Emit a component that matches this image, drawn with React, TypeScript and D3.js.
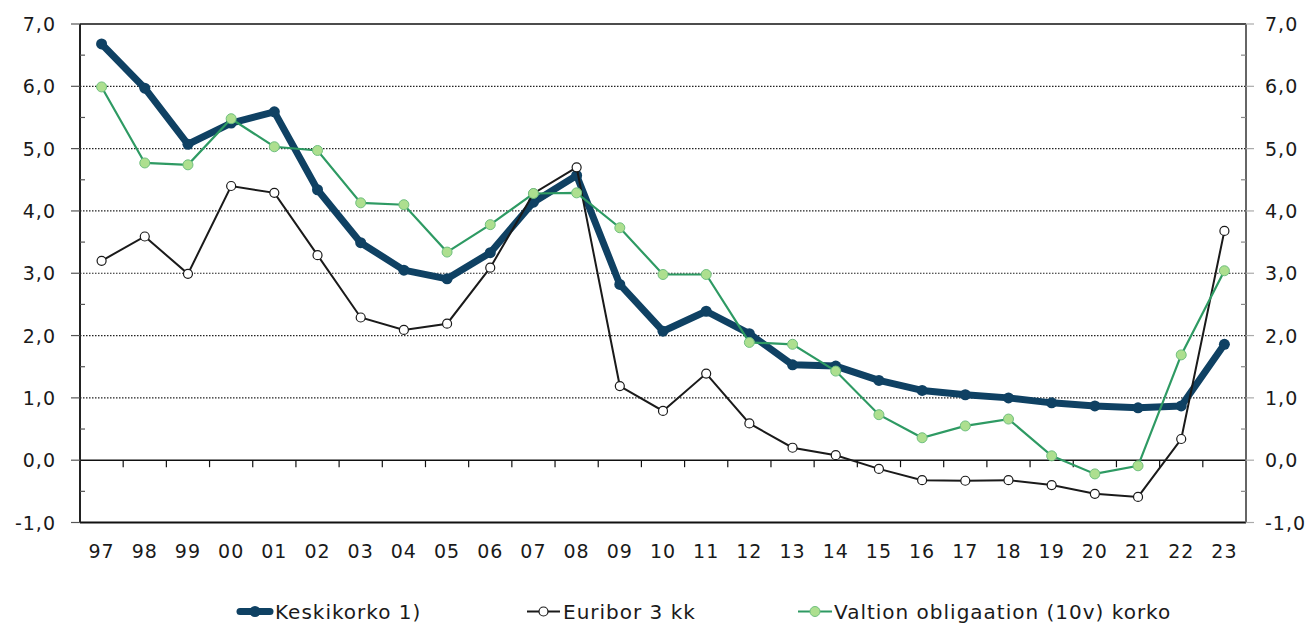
import React, { useEffect, useRef } from 'react';
import * as d3 from 'd3';

const years = ['97', '98', '99', '00', '01', '02', '03', '04', '05', '06', '07', '08', '09',
  '10', '11', '12', '13', '14', '15', '16', '17', '18', '19', '20', '21', '22', '23'];

const keskikorko = [6.68, 5.97, 5.07, 5.41, 5.59, 4.34, 3.49, 3.05, 2.91, 3.33, 4.14, 4.57, 2.82,
  2.07, 2.39, 2.03, 1.53, 1.51, 1.28, 1.12, 1.05, 1.0, 0.92, 0.87, 0.84, 0.87, 1.86];

const euribor = [3.2, 3.59, 2.99, 4.4, 4.29, 3.29, 2.29, 2.09, 2.19, 3.09, 4.28, 4.7, 1.19,
  0.79, 1.39, 0.59, 0.2, 0.08, -0.14, -0.32, -0.33, -0.32, -0.4, -0.54, -0.59, 0.34, 3.68];

const valtion = [5.99, 4.77, 4.74, 5.48, 5.03, 4.97, 4.13, 4.1, 3.34, 3.78, 4.28, 4.29, 3.73,
  2.98, 2.98, 1.89, 1.86, 1.43, 0.73, 0.36, 0.55, 0.66, 0.07, -0.22, -0.09, 1.69, 3.04];

const yTicks = [-1, 0, 1, 2, 3, 4, 5, 6, 7];
const gridTicks = [1, 2, 3, 4, 5, 6];
const minorTicks = [-0.5, 0.5, 1.5, 2.5, 3.5, 4.5, 5.5, 6.5];

const legendLabels = ['Keskikorko 1)', 'Euribor 3 kk', 'Valtion obligaation (10v) korko'];

const NAVY = '#0f4163';
const GREEN = '#2e9a63';
const LIGHT_GREEN = '#addf8f';
const FONT = '"DejaVu Sans", Verdana, sans-serif';

const App: React.FC = () => {
  const svgRef = useRef<SVGSVGElement>(null);
  const width = 1316;
  const height = 623;

  useEffect(() => {
    document.body.style.margin = '0';
    const svg = d3.select(svgRef.current);
    svg.selectAll('*').remove();

    const left = 80;
    const right = 1246;
    const top = 24;
    const bottom = 522.5;

    const x = d3.scaleBand().domain(years).range([left, right]).padding(0);
    const y = d3.scaleLinear().domain([-1, 7]).range([bottom, top]);
    const cx = (d: string) => (x(d) || 0) + x.bandwidth() / 2;

    // dotted grid
    svg.append('g').selectAll('line').data(gridTicks).enter().append('line')
      .attr('x1', left).attr('x2', right)
      .attr('y1', d => y(d)).attr('y2', d => y(d))
      .attr('stroke', '#222').attr('stroke-width', 1.2).attr('stroke-dasharray', '1.5,1.5');

    // top border
    svg.append('line').attr('x1', left).attr('x2', right).attr('y1', top).attr('y2', top)
      .attr('stroke', '#111').attr('stroke-width', 1.5);
    // bottom line
    svg.append('line').attr('x1', left).attr('x2', right).attr('y1', y(-1)).attr('y2', y(-1))
      .attr('stroke', '#111').attr('stroke-width', 2);

    // zero line + category ticks
    svg.append('line').attr('x1', left).attr('x2', right).attr('y1', y(0)).attr('y2', y(0))
      .attr('stroke', '#111').attr('stroke-width', 1.5);
    svg.append('g').selectAll('line').data(years.slice(1)).enter().append('line')
      .attr('x1', d => x(d) || 0).attr('x2', d => x(d) || 0)
      .attr('y1', y(0)).attr('y2', y(0) + 7)
      .attr('stroke', '#111').attr('stroke-width', 1.2);

    // left axis
    svg.append('line').attr('x1', left).attr('x2', left).attr('y1', top).attr('y2', bottom)
      .attr('stroke', '#222').attr('stroke-width', 2);
    svg.append('g').selectAll('line').data(yTicks).enter().append('line')
      .attr('x1', left - 9).attr('x2', left)
      .attr('y1', d => y(d)).attr('y2', d => y(d))
      .attr('stroke', '#555').attr('stroke-width', 1.2);
    svg.append('g').selectAll('line').data(minorTicks).enter().append('line')
      .attr('x1', left).attr('x2', left + 5)
      .attr('y1', d => y(d)).attr('y2', d => y(d))
      .attr('stroke', '#555').attr('stroke-width', 1.2);

    // right axis
    svg.append('line').attr('x1', right).attr('x2', right).attr('y1', top).attr('y2', bottom)
      .attr('stroke', '#666').attr('stroke-width', 2);
    svg.append('g').selectAll('line').data(yTicks).enter().append('line')
      .attr('x1', right).attr('x2', right + 8)
      .attr('y1', d => y(d)).attr('y2', d => y(d))
      .attr('stroke', '#aaa').attr('stroke-width', 1.2);
    svg.append('g').selectAll('line').data(minorTicks).enter().append('line')
      .attr('x1', right - 5).attr('x2', right)
      .attr('y1', d => y(d)).attr('y2', d => y(d))
      .attr('stroke', '#888').attr('stroke-width', 1.2);

    const fmt = (d: number) => d.toFixed(1).replace('.', ',');

    // y labels
    svg.append('g').selectAll('text').data(yTicks).enter().append('text')
      .attr('x', 56).attr('y', d => y(d) + 7)
      .attr('text-anchor', 'end')
      .style('font-family', FONT).style('font-size', '19px').style('letter-spacing', '1px')
      .attr('fill', '#1a1a1a')
      .text(fmt);
    svg.append('g').selectAll('text').data(yTicks).enter().append('text')
      .attr('x', 1265).attr('y', d => y(d) + 7)
      .attr('text-anchor', 'start')
      .style('font-family', FONT).style('font-size', '19px').style('letter-spacing', '1px')
      .attr('fill', '#1a1a1a')
      .text(fmt);

    // x labels
    svg.append('g').selectAll('text').data(years).enter().append('text')
      .attr('x', d => cx(d)).attr('y', 557.5)
      .attr('text-anchor', 'middle')
      .style('font-family', FONT).style('font-size', '19px').style('letter-spacing', '1px')
      .attr('fill', '#1a1a1a')
      .text(d => d);

    const line = d3.line<number>()
      .x((_, i) => cx(years[i]))
      .y(d => y(d));

    // Keskikorko
    svg.append('path').datum(keskikorko).attr('d', line)
      .attr('fill', 'none').attr('stroke', NAVY).attr('stroke-width', 7)
      .attr('stroke-linejoin', 'round');
    svg.append('g').selectAll('circle').data(keskikorko).enter().append('circle')
      .attr('cx', (_, i) => cx(years[i])).attr('cy', d => y(d)).attr('r', 5.5)
      .attr('fill', NAVY);

    // Euribor
    svg.append('path').datum(euribor).attr('d', line)
      .attr('fill', 'none').attr('stroke', '#1a1a1a').attr('stroke-width', 2);
    svg.append('g').selectAll('circle').data(euribor).enter().append('circle')
      .attr('cx', (_, i) => cx(years[i])).attr('cy', d => y(d)).attr('r', 4.5)
      .attr('fill', '#fff').attr('stroke', '#1a1a1a').attr('stroke-width', 1.2);

    // Valtion
    svg.append('path').datum(valtion).attr('d', line)
      .attr('fill', 'none').attr('stroke', GREEN).attr('stroke-width', 2.2);
    svg.append('g').selectAll('circle').data(valtion).enter().append('circle')
      .attr('cx', (_, i) => cx(years[i])).attr('cy', d => y(d)).attr('r', 5)
      .attr('fill', LIGHT_GREEN).attr('stroke', '#6fc07f').attr('stroke-width', 1);

    // legend
    const legendY = 611.5;
    const items = [
      { x0: 237, x1: 273, tx: 275, label: legendLabels[0] },
      { x0: 527, x1: 560, tx: 563, label: legendLabels[1] },
      { x0: 798, x1: 832, tx: 834, label: legendLabels[2] },
    ];
    const lg = svg.append('g');
    // keskikorko sample
    lg.append('line').attr('x1', items[0].x0 + 3).attr('x2', items[0].x1 - 3)
      .attr('y1', legendY).attr('y2', legendY)
      .attr('stroke', NAVY).attr('stroke-width', 7).attr('stroke-linecap', 'round');
    lg.append('circle').attr('cx', (items[0].x0 + items[0].x1) / 2).attr('cy', legendY)
      .attr('r', 5.5).attr('fill', NAVY);
    // euribor sample
    lg.append('line').attr('x1', items[1].x0).attr('x2', items[1].x1)
      .attr('y1', legendY).attr('y2', legendY)
      .attr('stroke', '#1a1a1a').attr('stroke-width', 2);
    lg.append('circle').attr('cx', (items[1].x0 + items[1].x1) / 2).attr('cy', legendY)
      .attr('r', 4.5).attr('fill', '#fff').attr('stroke', '#1a1a1a').attr('stroke-width', 1.2);
    // valtion sample
    lg.append('line').attr('x1', items[2].x0).attr('x2', items[2].x1)
      .attr('y1', legendY).attr('y2', legendY)
      .attr('stroke', GREEN).attr('stroke-width', 2.2);
    lg.append('circle').attr('cx', (items[2].x0 + items[2].x1) / 2).attr('cy', legendY)
      .attr('r', 5).attr('fill', LIGHT_GREEN).attr('stroke', '#6fc07f').attr('stroke-width', 1);

    lg.selectAll('text').data(items).enter().append('text')
      .attr('x', d => d.tx).attr('y', 618.5)
      .style('font-family', FONT).style('font-size', '20px').style('letter-spacing', '1px')
      .attr('fill', '#1a1a1a')
      .text(d => d.label);
  }, []);

  return <svg ref={svgRef} width={width} height={height} style={{ display: 'block' }} />;
};

export default App;
